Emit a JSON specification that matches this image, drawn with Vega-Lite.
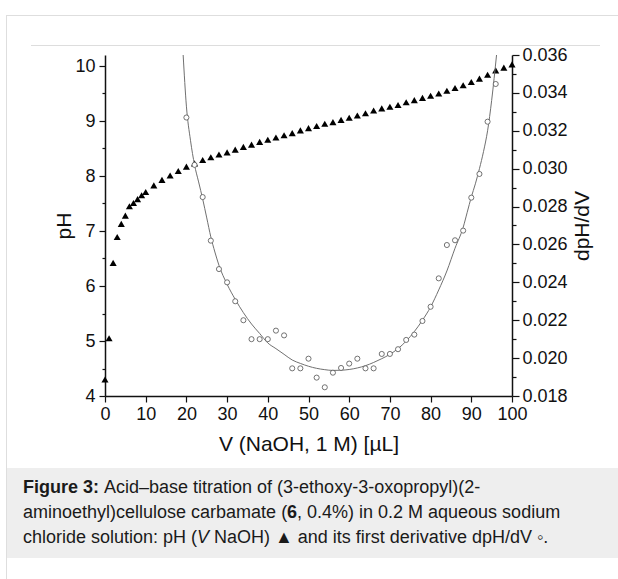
{
  "$schema": "https://vega.github.io/schema/vega-lite/v6.json",
  "background": "white",
  "padding": {"left": 6, "top": 15, "right": 0, "bottom": 0},
  "columns": 1,
  "align": "none",
  "bounds": "full",
  "spacing": 0,
  "config": {
    "font": "Liberation Sans",
    "view": {"stroke": null},
    "axis": {"labelFont": "Liberation Sans", "titleFont": "Liberation Sans", "labelColor": "#111", "titleColor": "#111", "titleFontWeight": "normal", "grid": false}
  },
  "concat": [
    {"width": 612, "height": 1, "view": {"fill": "#dedede", "stroke": null}, "data": {"values": []}, "mark": "point"},
    {
      "columns": 2,
      "align": "each",
      "spacing": 0,
      "concat": [
        {"width": 1, "height": 563, "view": {"fill": "#dedede", "stroke": null}, "data": {"values": []}, "mark": "point"},
        {
          "columns": 1,
          "align": "none",
          "spacing": 14,
          "concat": [
            {
              "columns": 1,
              "align": "none",
              "spacing": 0,
              "concat": [
                {"width": 1, "height": 29, "data": {"values": []}, "mark": "point"},
                {
                  "columns": 2,
                  "align": "each",
                  "spacing": 0,
                  "concat": [
                    {"width": 24, "height": 1, "data": {"values": []}, "mark": "point"},
                    {"width": 569, "height": 1, "view": {"fill": "#dddddd", "stroke": null}, "data": {"values": []}, "mark": "point"}
                  ]
                },
                {
                  "columns": 2,
                  "align": "each",
                  "spacing": 0,
                  "concat": [
                    {"width": 1, "height": 1, "data": {"values": []}, "mark": "point"},
                    {
                      "width": 407,
                      "height": 341,
                      "layer": [
                        {
                          "data": {"values": [
                            {"V": 0, "pH": 4.30}, {"V": 1, "pH": 5.05}, {"V": 2, "pH": 6.42}, {"V": 3, "pH": 6.89},
                            {"V": 4, "pH": 7.13}, {"V": 5, "pH": 7.28}, {"V": 6, "pH": 7.45}, {"V": 7, "pH": 7.51},
                            {"V": 8, "pH": 7.58}, {"V": 9, "pH": 7.65}, {"V": 10, "pH": 7.71}, {"V": 12, "pH": 7.83},
                            {"V": 14, "pH": 7.93}, {"V": 16, "pH": 8.01}, {"V": 18, "pH": 8.09}, {"V": 20, "pH": 8.17},
                            {"V": 22, "pH": 8.23}, {"V": 24, "pH": 8.29}, {"V": 26, "pH": 8.34}, {"V": 28, "pH": 8.39},
                            {"V": 30, "pH": 8.43}, {"V": 32, "pH": 8.48}, {"V": 34, "pH": 8.53}, {"V": 36, "pH": 8.57},
                            {"V": 38, "pH": 8.62}, {"V": 40, "pH": 8.66}, {"V": 42, "pH": 8.70}, {"V": 44, "pH": 8.74},
                            {"V": 46, "pH": 8.78}, {"V": 48, "pH": 8.83}, {"V": 50, "pH": 8.87}, {"V": 52, "pH": 8.91},
                            {"V": 54, "pH": 8.95}, {"V": 56, "pH": 8.98}, {"V": 58, "pH": 9.02}, {"V": 60, "pH": 9.06},
                            {"V": 62, "pH": 9.10}, {"V": 64, "pH": 9.14}, {"V": 66, "pH": 9.19}, {"V": 68, "pH": 9.23},
                            {"V": 70, "pH": 9.26}, {"V": 72, "pH": 9.29}, {"V": 74, "pH": 9.34}, {"V": 76, "pH": 9.38},
                            {"V": 78, "pH": 9.42}, {"V": 80, "pH": 9.46}, {"V": 82, "pH": 9.50}, {"V": 84, "pH": 9.55},
                            {"V": 86, "pH": 9.60}, {"V": 88, "pH": 9.65}, {"V": 90, "pH": 9.71}, {"V": 92, "pH": 9.77},
                            {"V": 94, "pH": 9.84}, {"V": 96, "pH": 9.92}, {"V": 98, "pH": 9.97}, {"V": 100, "pH": 10.03}
                          ]},
                          "mark": {"type": "point", "shape": "triangle-up", "filled": true, "color": "black", "size": 50, "opacity": 1},
                          "encoding": {
                            "x": {
                              "field": "V", "type": "quantitative", "title": "V (NaOH, 1 M) [µL]",
                              "scale": {"domain": [0, 100], "nice": false},
                              "axis": {
                                "values": [0, 5, 10, 15, 20, 25, 30, 35, 40, 45, 50, 55, 60, 65, 70, 75, 80, 85, 90, 95, 100],
                                "format": "d",
                                "labelExpr": "datum.value % 10 === 0 ? datum.label : ''",
                                "tickSize": {"condition": {"test": "datum.value % 10 === 0", "value": 6}, "value": 3},
                                "labelFlush": false, "labelOverlap": false,
                                "labelFontSize": 18, "labelPadding": 3,
                                "titleFontSize": 21, "titlePadding": 10,
                                "domainColor": "#111", "domainWidth": 1.5, "tickColor": "#111", "tickWidth": 1.2
                              }
                            },
                            "y": {
                              "field": "pH", "type": "quantitative", "title": "pH",
                              "scale": {"domain": [4, 10.2], "nice": false, "zero": false},
                              "axis": {
                                "orient": "left",
                                "values": [4, 4.5, 5, 5.5, 6, 6.5, 7, 7.5, 8, 8.5, 9, 9.5, 10],
                                "format": ".0f",
                                "labelExpr": "datum.value % 1 === 0 ? datum.label : ''",
                                "tickSize": {"condition": {"test": "datum.value % 1 === 0", "value": 6}, "value": 3},
                                "labelOverlap": false,
                                "labelFontSize": 18, "labelPadding": 4,
                                "titleFontSize": 21, "titlePadding": 0,
                                "domainColor": "#111", "domainWidth": 1.5, "tickColor": "#111", "tickWidth": 1.2
                              }
                            }
                          }
                        },
                        {
                          "data": {"values": [
                            {"V": 19.2, "d": 0.0360}, {"V": 20, "d": 0.0333}, {"V": 21, "d": 0.0315}, {"V": 22, "d": 0.0302},
                            {"V": 23, "d": 0.0293}, {"V": 24, "d": 0.0284}, {"V": 25, "d": 0.0274}, {"V": 26, "d": 0.0264},
                            {"V": 27, "d": 0.0256}, {"V": 28, "d": 0.0249}, {"V": 30, "d": 0.0239}, {"V": 32, "d": 0.0231},
                            {"V": 34, "d": 0.0224}, {"V": 36, "d": 0.0218}, {"V": 38, "d": 0.0213}, {"V": 40, "d": 0.0208},
                            {"V": 42, "d": 0.0205}, {"V": 44, "d": 0.0202}, {"V": 46, "d": 0.0199}, {"V": 48, "d": 0.01972},
                            {"V": 50, "d": 0.01957}, {"V": 52, "d": 0.01946}, {"V": 54, "d": 0.01939}, {"V": 56, "d": 0.01935},
                            {"V": 58, "d": 0.01936}, {"V": 60, "d": 0.0194}, {"V": 62, "d": 0.01948}, {"V": 64, "d": 0.0196},
                            {"V": 66, "d": 0.01977}, {"V": 68, "d": 0.01997}, {"V": 70, "d": 0.0202}, {"V": 72, "d": 0.0205},
                            {"V": 74, "d": 0.0209}, {"V": 76, "d": 0.0214}, {"V": 78, "d": 0.0220}, {"V": 80, "d": 0.0227},
                            {"V": 82, "d": 0.0236}, {"V": 84, "d": 0.0246}, {"V": 86, "d": 0.0258}, {"V": 88, "d": 0.0269},
                            {"V": 89, "d": 0.0277}, {"V": 90, "d": 0.0285}, {"V": 91, "d": 0.0292}, {"V": 92, "d": 0.0300},
                            {"V": 93, "d": 0.0309}, {"V": 94, "d": 0.0320}, {"V": 95, "d": 0.0336}, {"V": 96.2, "d": 0.0360}
                          ]},
                          "mark": {"type": "line", "color": "#707070", "strokeWidth": 1, "interpolate": "monotone", "clip": true},
                          "encoding": {
                            "x": {"field": "V", "type": "quantitative", "title": "V (NaOH, 1 M) [µL]", "scale": {"domain": [0, 100], "nice": false}},
                            "y": {
                              "field": "d", "type": "quantitative", "title": "pH",
                              "scale": {"domain": [0.018, 0.036], "nice": false, "zero": false},
                              "axis": {
                                "orient": "left", "domain": false, "ticks": false, "labels": false, "grid": false,
                                "titleOpacity": 0, "titleX": -97, "titleY": 170, "titleAngle": 0,
                                "titleAlign": "left", "titleBaseline": "middle", "titleFontSize": 10
                              }
                            }
                          }
                        },
                        {
                          "data": {"values": [
                            {"V": 20, "d": 0.0327}, {"V": 22, "d": 0.0302}, {"V": 24, "d": 0.0285}, {"V": 26, "d": 0.0262},
                            {"V": 28, "d": 0.0247}, {"V": 30, "d": 0.0240}, {"V": 32, "d": 0.0230}, {"V": 34, "d": 0.0220},
                            {"V": 36, "d": 0.0210}, {"V": 38, "d": 0.0210}, {"V": 40, "d": 0.0210}, {"V": 42, "d": 0.02145},
                            {"V": 44, "d": 0.0212}, {"V": 46, "d": 0.01946}, {"V": 48, "d": 0.01946}, {"V": 50, "d": 0.01997},
                            {"V": 52, "d": 0.01897}, {"V": 54, "d": 0.01846}, {"V": 56, "d": 0.01923}, {"V": 58, "d": 0.01948},
                            {"V": 60, "d": 0.01971}, {"V": 62, "d": 0.01997}, {"V": 64, "d": 0.01946}, {"V": 66, "d": 0.01946},
                            {"V": 68, "d": 0.02022}, {"V": 70, "d": 0.02022}, {"V": 72, "d": 0.02047}, {"V": 74, "d": 0.02096},
                            {"V": 76, "d": 0.02124}, {"V": 78, "d": 0.02196}, {"V": 80, "d": 0.02271}, {"V": 82, "d": 0.02421},
                            {"V": 84, "d": 0.02597}, {"V": 86, "d": 0.02622}, {"V": 88, "d": 0.02673}, {"V": 90, "d": 0.02847},
                            {"V": 92, "d": 0.02972}, {"V": 94, "d": 0.03248}, {"V": 96, "d": 0.03447}
                          ]},
                          "mark": {"type": "point", "shape": "circle", "filled": true, "fill": "white", "stroke": "#505050", "strokeWidth": 0.8, "size": 26, "opacity": 1},
                          "encoding": {
                            "x": {"field": "V", "type": "quantitative", "title": "V (NaOH, 1 M) [µL]", "scale": {"domain": [0, 100], "nice": false}},
                            "y": {
                              "field": "d", "type": "quantitative", "title": "dpH/dV",
                              "scale": {"domain": [0.018, 0.036], "nice": false, "zero": false},
                              "axis": {
                                "orient": "right",
                                "values": [0.018, 0.019, 0.02, 0.021, 0.022, 0.023, 0.024, 0.025, 0.026, 0.027, 0.028, 0.029, 0.03, 0.031, 0.032, 0.033, 0.034, 0.035, 0.036],
                                "labelExpr": "round(datum.value * 1000) % 2 === 0 ? format(datum.value, '.3f') : ''",
                                "tickSize": {"condition": {"test": "round(datum.value * 1000) % 2 === 0", "value": 7}, "value": 4},
                                "labelOverlap": false,
                                "labelFontSize": 18, "labelPadding": 3,
                                "titleFontSize": 21, "titlePadding": 4, "titleAngle": 270, "titleBaseline": "top",
                                "domainColor": "#111", "domainWidth": 1.5, "tickColor": "#111", "tickWidth": 1.2
                              }
                            }
                          }
                        }
                      ],
                      "resolve": {"scale": {"y": "independent"}, "axis": {"y": "independent"}}
                    }
                  ]
                }
              ]
            },
            {
              "width": 611,
              "height": 90,
              "view": {"fill": "#eeeeee", "stroke": null},
              "encoding": {
                "x": {"datum": 0, "type": "quantitative", "scale": {"domain": [0, 1]}, "axis": null},
                "y": {"field": "line", "type": "quantitative", "scale": {"domain": [0.2, 3.8], "reverse": true, "nice": false, "zero": false}, "axis": null},
                "text": {"field": "text"}
              },
              "layer": [
                {
                  "data": {"values": [{"line": 1, "text": "Figure 3:"}]},
                  "mark": {"type": "text", "align": "left", "baseline": "middle", "dx": 16, "fontSize": 18, "fontWeight": "bold", "font": "Liberation Sans", "color": "#1a1a1a"}
                },
                {
                  "data": {"values": [{"line": 1, "text": "Acid–base titration of (3-ethoxy-3-oxopropyl)(2-"}]},
                  "mark": {"type": "text", "align": "left", "baseline": "middle", "dx": 97, "fontSize": 18, "font": "Liberation Sans", "color": "#1a1a1a"}
                },
                {
                  "data": {"values": [
                    {"line": 2, "text": "aminoethyl)cellulose carbamate ("},
                    {"line": 3, "text": "chloride solution: pH ("}
                  ]},
                  "mark": {"type": "text", "align": "left", "baseline": "middle", "dx": 16, "fontSize": 18, "font": "Liberation Sans", "color": "#1a1a1a"}
                },
                {
                  "data": {"values": [{"line": 2, "text": "6"}]},
                  "mark": {"type": "text", "align": "left", "baseline": "middle", "dx": 280, "fontSize": 18, "fontWeight": "bold", "font": "Liberation Sans", "color": "#1a1a1a"}
                },
                {
                  "data": {"values": [{"line": 2, "text": ", 0.4%) in 0.2 M aqueous sodium"}]},
                  "mark": {"type": "text", "align": "left", "baseline": "middle", "dx": 290, "fontSize": 18, "font": "Liberation Sans", "color": "#1a1a1a"}
                },
                {
                  "data": {"values": [{"line": 3, "text": "V"}]},
                  "mark": {"type": "text", "align": "left", "baseline": "middle", "dx": 190, "fontSize": 18, "fontStyle": "italic", "font": "Liberation Sans", "color": "#1a1a1a"}
                },
                {
                  "data": {"values": [{"line": 3, "text": "NaOH) ▲ and its first derivative dpH/dV ◦."}]},
                  "mark": {"type": "text", "align": "left", "baseline": "middle", "dx": 207, "fontSize": 18, "font": "Liberation Sans", "color": "#1a1a1a"}
                }
              ]
            }
          ]
        }
      ]
    }
  ]
}
